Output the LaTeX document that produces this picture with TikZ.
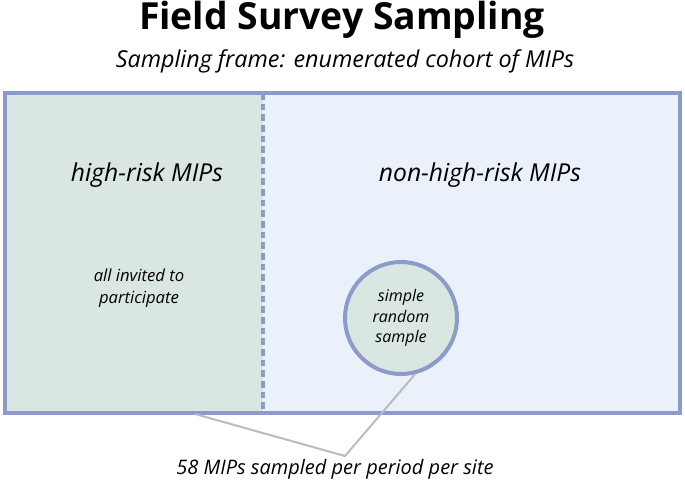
\documentclass[tikz,border=0pt]{standalone}
\usepackage{fontspec}
\setmainfont{Open Sans}
\definecolor{frame}{HTML}{8C9BC8}
\definecolor{greenfill}{HTML}{D9E6E1}
\definecolor{bluefill}{HTML}{EBF1FB}
\definecolor{lead}{HTML}{BBBBBB}
\tikzset{
  label/.style={align=center, font=\itshape},
}
\begin{document}
\begin{tikzpicture}[x=0.75pt, y=-0.75pt]
  \useasboundingbox (0, 0) rectangle (685, 491);
% regions
  \fill[greenfill] (5, 93) rectangle (263, 413);
  \fill[bluefill] (263, 93) rectangle (680, 413);
  \draw[frame, line width=2.4pt, dash pattern=on 5pt off 3pt] (263, 93) -- (263, 413);
  \draw[frame, line width=2.4pt] (5, 93) rectangle (680, 413);

  \node[font=\bfseries\fontsize{28}{32}\selectfont] (title) at (342, 20) {Field Survey Sampling};
  \node[label, font=\itshape\fontsize{17.5}{20}\selectfont] (frametext) at (345, 61) {Sampling frame: enumerated cohort of MIPs};

  \node[label, font=\itshape\fontsize{18.5}{22}\selectfont] (high) at (147, 175) {high-risk MIPs};
  \node[label, font=\itshape\fontsize{18.5}{22}\selectfont] (nonhigh) at (480, 175) {non-high-risk MIPs};
  \node[label, font=\itshape\fontsize{12.5}{16}\selectfont] (invite) at (139, 288) {all invited to\\participate};

% sample circle
  \node[circle, draw=frame, fill=greenfill, line width=3pt, minimum size=84pt, inner sep=0pt, label, font=\itshape\fontsize{12}{15.5}\selectfont] (sample) at (401, 318) {simple\\random\\sample};

  \node[label, font=\itshape\fontsize{15}{18}\selectfont] (count) at (335, 469) {58 MIPs sampled per period per site};
  \coordinate (join) at (345, 456);
  \coordinate (highfoot) at (195, 414);
  \draw[lead, line width=1.5pt] (highfoot) -- (join) -- (sample.-76);
\end{tikzpicture}
\end{document}
